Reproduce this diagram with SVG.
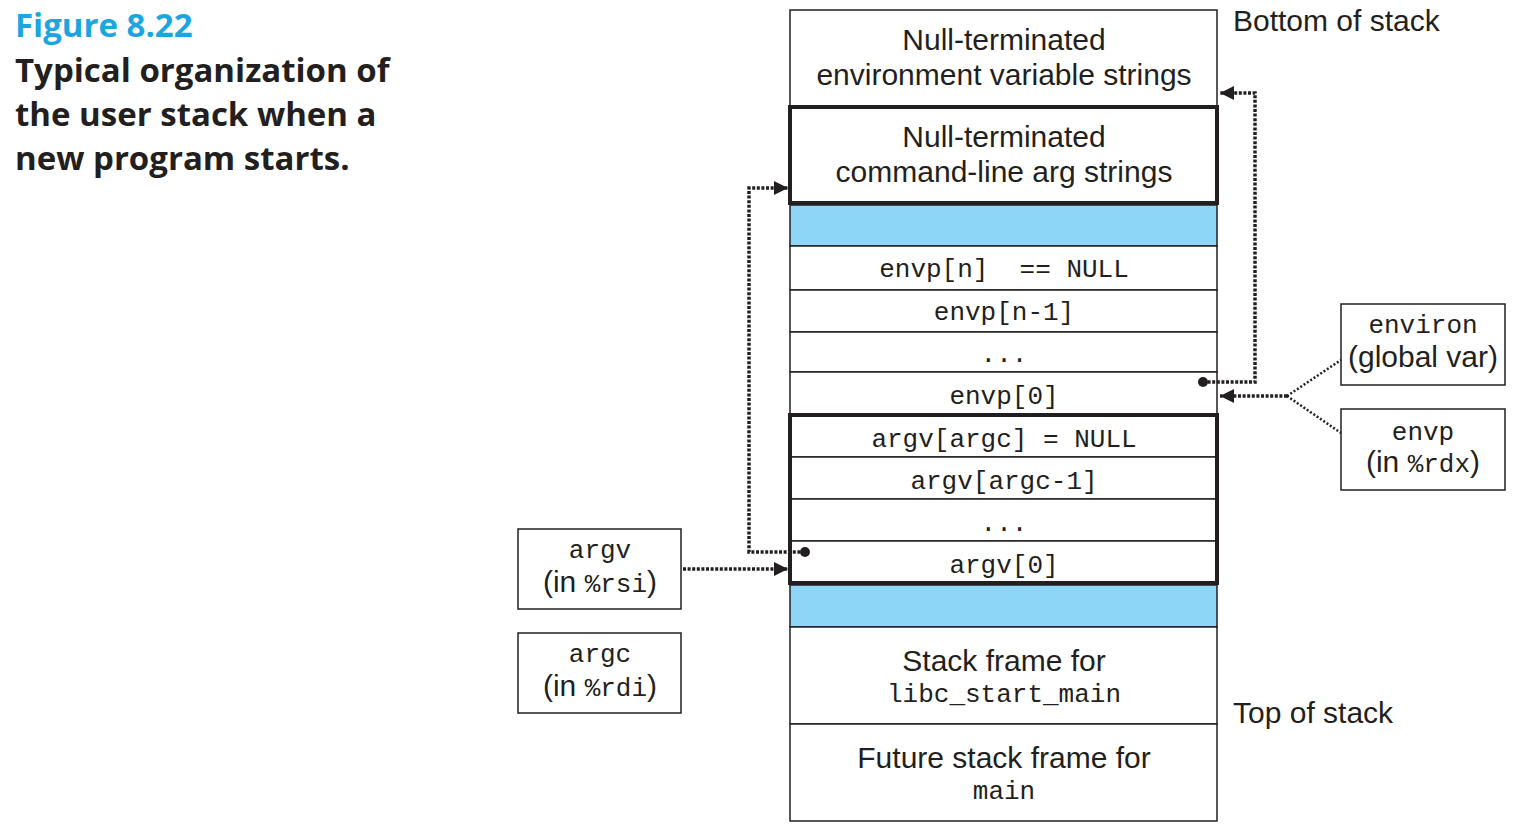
<svg xmlns="http://www.w3.org/2000/svg" width="1532" height="832" viewBox="0 0 1532 832">
<style>
.sans{font-family:"Liberation Sans",Arial,sans-serif;font-size:30px;fill:#231f20;text-anchor:middle}
.mono{font-family:"Liberation Mono","DejaVu Sans Mono",monospace;font-size:26px;fill:#231f20;text-anchor:middle;white-space:pre}
.side{font-family:"Liberation Sans",Arial,sans-serif;font-size:30px;fill:#231f20}
.title{font-family:"Open Sans","Liberation Sans",sans-serif;font-weight:700;font-size:33px;fill:#231f20}
.fig{fill:#1ba6e0}
.cell{fill:#fff;stroke:#231f20;stroke-width:1.5}
.blue{fill:#8dd6f7;stroke:#231f20;stroke-width:1.5}
.thick{fill:none;stroke:#231f20;stroke-width:4}
.box{fill:#fff;stroke:#231f20;stroke-width:1.5}
.dot{fill:none;stroke:#231f20;stroke-width:3.5;stroke-dasharray:3 1.6}
.thin{fill:none;stroke:#231f20;stroke-width:2.5;stroke-dasharray:2 2}
.mt{font-family:"Liberation Mono","DejaVu Sans Mono",monospace}
</style>
<defs>
<marker id="ah" viewBox="0 0 14 14" refX="14" refY="7" markerWidth="14" markerHeight="14" markerUnits="userSpaceOnUse" orient="auto">
<path d="M0,0 L14,7 L0,14 Z" fill="#231f20"/>
</marker>
</defs>
<rect width="1532" height="832" fill="#fff"/>
<g id="caption">
<text class="title fig" x="15" y="37">Figure 8.22</text>
<text class="title" x="15" y="82">Typical organization of</text>
<text class="title" x="15" y="126">the user stack when a</text>
<text class="title" x="15" y="170">new program starts.</text>
</g>
<g id="env-strings">
<rect class="cell" x="790" y="10" width="427" height="96"/>
<text class="sans" x="1004" y="50">Null-terminated</text>
<text class="sans" x="1004" y="85">environment variable strings</text>
</g>
<g id="bottom-label"><text class="side" x="1233" y="31">Bottom of stack</text></g>
<g id="arg-strings">
<rect class="cell" x="790" y="107" width="427" height="96"/>
<rect class="thick" x="790" y="107" width="427" height="96"/>
<text class="sans" x="1004" y="147">Null-terminated</text>
<text class="sans" x="1004" y="182">command-line arg strings</text>
</g>
<g id="gap1"><rect class="blue" x="790" y="205" width="427" height="41"/></g>
<g id="envp-n"><rect class="cell" x="790" y="246" width="427" height="44"/><text class="mono" x="1004" y="277">envp[n]  == NULL</text></g>
<g id="envp-n1"><rect class="cell" x="790" y="290" width="427" height="42"/><text class="mono" x="1004" y="320">envp[n-1]</text></g>
<g id="envp-dots"><rect class="cell" x="790" y="332" width="427" height="40"/><text class="mono" x="1004" y="362">...</text></g>
<g id="envp-0"><rect class="cell" x="790" y="372" width="427" height="43"/><text class="mono" x="1004" y="404">envp[0]</text></g>
<g id="argv-block">
<rect class="cell" x="790" y="415" width="427" height="42"/><text class="mono" x="1004" y="447">argv[argc] = NULL</text>
<rect class="cell" x="790" y="457" width="427" height="42"/><text class="mono" x="1004" y="489">argv[argc-1]</text>
<rect class="cell" x="790" y="499" width="427" height="42"/><text class="mono" x="1004" y="531">...</text>
<rect class="cell" x="790" y="541" width="427" height="42"/><text class="mono" x="1004" y="573">argv[0]</text>
<rect class="thick" x="790" y="415" width="427" height="168"/>
</g>
<g id="gap2"><rect class="blue" x="790" y="585" width="427" height="42"/></g>
<g id="libc-frame"><rect class="cell" x="790" y="627" width="427" height="97"/>
<text class="sans" x="1004" y="671">Stack frame for</text>
<text class="mono" x="1004" y="702">libc_start_main</text></g>
<g id="main-frame"><rect class="cell" x="790" y="724" width="427" height="97"/>
<text class="sans" x="1004" y="768">Future stack frame for</text>
<text class="mono" x="1004" y="799">main</text></g>
<g id="top-label"><text class="side" x="1233" y="723">Top of stack</text></g>
<g id="environ-box"><rect class="box" x="1341" y="304" width="164" height="81"/>
<text class="mono" x="1423" y="333">environ</text>
<text class="sans" x="1423" y="367">(global var)</text></g>
<g id="envp-box"><rect class="box" x="1341" y="409" width="164" height="81"/>
<text class="mono" x="1423" y="440">envp</text>
<text class="sans" x="1423" y="472">(in <tspan class="mt" font-size="26">%rdx</tspan>)</text></g>
<g id="argv-box"><rect class="box" x="518" y="529" width="163" height="80"/>
<text class="mono" x="600" y="558">argv</text>
<text class="sans" x="600" y="592">(in <tspan class="mt" font-size="26">%rsi</tspan>)</text></g>
<g id="argc-box"><rect class="box" x="518" y="633" width="163" height="80"/>
<text class="mono" x="600" y="662">argc</text>
<text class="sans" x="600" y="696">(in <tspan class="mt" font-size="26">%rdi</tspan>)</text></g>
<g id="connectors">
<path class="dot" d="M1203,382 H1255 V93 H1220" marker-end="url(#ah)"/>
<circle cx="1203" cy="382" r="5" fill="#231f20"/>
<path class="dot" d="M1287,396 H1220" marker-end="url(#ah)"/>
<path class="thin" d="M1287,396 L1341,360"/>
<path class="thin" d="M1287,396 L1341,433"/>
<path class="dot" d="M805,552 H749 V188 H788" marker-end="url(#ah)"/>
<circle cx="805" cy="552" r="5" fill="#231f20"/>
<path class="dot" d="M683,569 H788" marker-end="url(#ah)"/>
</g>
</svg>
